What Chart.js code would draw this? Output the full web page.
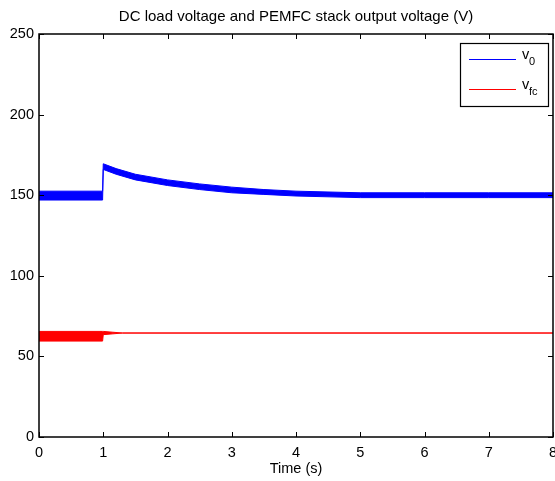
<!DOCTYPE html>
<html>
<head>
<meta charset="utf-8">
<script src="https://cdn.jsdelivr.net/npm/chart.js@4.4.1/dist/chart.umd.min.js"></script>
<style>
  body { margin: 0; background: #fff; }
  canvas { display: block; }
</style>
</head>
<body>
<canvas id="voltChart" width="555" height="481"></canvas>
<script>
// tick labels
const timeTicks = [0, 1, 2, 3, 4, 5, 6, 7, 8];
const voltTicks = [0, 50, 100, 150, 200, 250];

// v0 (DC load voltage) - noisy band read as upper / lower envelope
const blueTime  = [0, 0.99, 1.0, 1.2, 1.5, 2.0, 2.5, 3.0, 3.5, 4.0, 5.0, 6.0, 7.0, 8.0];
const blueUpper = [152.5, 152.5, 169.5, 166.5, 163, 159.5, 157, 155, 153.5, 152.5, 151.5, 151.5, 151.5, 151.5];
const blueLower = [147, 147, 166, 163, 159.5, 156, 153.5, 151.5, 150.5, 149.5, 148.5, 148.5, 148.5, 148.5];

// vfc (PEMFC stack output voltage)
const redTime  = [0, 0.99, 1.0, 1.15, 1.3, 8.0];
const redUpper = [65.5, 65.5, 65.5, 65, 64.5, 64.5];
const redLower = [59.5, 59.5, 63.5, 64, 64.5, 64.5];

const FONT = "'Liberation Sans', Arial, sans-serif";

const toPts = (xs, ys) => xs.map((x, i) => ({ x: x, y: ys[i] }));

// matlab style box with inward ticks on every side + legend
const matlabFrame = {
    id: 'matlabFrame',
    afterDatasetsDraw(chart) {
        const { ctx, chartArea: a, scales } = chart;
        const tl = 5;
        ctx.save();
        ctx.strokeStyle = '#000';
        ctx.lineWidth = 1.5;
        ctx.strokeRect(a.left, a.top, a.right - a.left, a.bottom - a.top);
        ctx.lineWidth = 1;
        ctx.beginPath();
        timeTicks.forEach(t => {
            const px = Math.round(scales.x.getPixelForValue(t)) + 0.5;
            ctx.moveTo(px, a.bottom); ctx.lineTo(px, a.bottom - tl);
            ctx.moveTo(px, a.top); ctx.lineTo(px, a.top + tl);
        });
        voltTicks.forEach(v => {
            const py = Math.round(scales.y.getPixelForValue(v)) + 0.5;
            ctx.moveTo(a.left, py); ctx.lineTo(a.left + tl, py);
            ctx.moveTo(a.right, py); ctx.lineTo(a.right - tl, py);
        });
        ctx.stroke();

        // legend
        const bx = a.right - 93, by = a.top + 9, bw = 88, bh = 63;
        ctx.fillStyle = '#fff';
        ctx.fillRect(bx, by, bw, bh);
        ctx.strokeStyle = '#000';
        ctx.lineWidth = 1.2;
        ctx.strokeRect(bx + 0.5, by + 0.5, bw, bh);

        const items = [
            { color: '#0000ff', main: 'v', sub: '0', y: by + 16 },
            { color: '#ff0000', main: 'v', sub: 'fc', y: by + 46 }
        ];
        items.forEach(it => {
            ctx.strokeStyle = it.color;
            ctx.lineWidth = 1;
            ctx.beginPath();
            ctx.moveTo(bx + 9, it.y + 0.5);
            ctx.lineTo(bx + 56, it.y + 0.5);
            ctx.stroke();
            ctx.fillStyle = '#000';
            ctx.textBaseline = 'alphabetic';
            ctx.textAlign = 'left';
            ctx.font = '14.5px ' + FONT;
            ctx.fillText(it.main, bx + 62, it.y);
            ctx.font = '11px ' + FONT;
            ctx.fillText(it.sub, bx + 69, it.y + 6);
        });
        ctx.restore();
    }
};

new Chart(document.getElementById('voltChart'), {
    type: 'line',
    data: {
        datasets: [
            {
                label: 'v0 upper',
                data: toPts(blueTime, blueUpper),
                borderColor: '#0000ff',
                backgroundColor: '#0000ff',
                borderWidth: 1,
                fill: '+1'
            },
            {
                label: 'v0 lower',
                data: toPts(blueTime, blueLower),
                borderColor: '#0000ff',
                borderWidth: 1,
                fill: false
            },
            {
                label: 'vfc upper',
                data: toPts(redTime, redUpper),
                borderColor: '#ff0000',
                backgroundColor: '#ff0000',
                borderWidth: 1,
                fill: '+1'
            },
            {
                label: 'vfc lower',
                data: toPts(redTime, redLower),
                borderColor: '#ff0000',
                borderWidth: 1,
                fill: false
            }
        ]
    },
    options: {
        responsive: false,
        devicePixelRatio: 1,
        animation: false,
        layout: { padding: { left: 0, right: 2, top: 0, bottom: 0 } },
        elements: {
            point: { radius: 0 },
            line: { tension: 0 }
        },
        scales: {
            x: {
                type: 'linear',
                min: 0,
                max: 8,
                afterBuildTicks: (s) => { s.ticks = timeTicks.map(v => ({ value: v })); },
                afterFit: (s) => { s.height = 44; s.paddingLeft = 0; s.paddingRight = 0; },
                grid: { display: false, drawTicks: false },
                border: { display: false },
                ticks: {
                    color: '#000',
                    padding: 7,
                    maxRotation: 0,
                    font: { family: FONT, size: 14.5 }
                },
                title: {
                    display: true,
                    text: 'Time (s)',
                    color: '#000',
                    padding: { top: 0, bottom: 3 },
                    font: { family: FONT, size: 14.5 }
                }
            },
            y: {
                min: 0,
                max: 250,
                afterBuildTicks: (s) => { s.ticks = voltTicks.map(v => ({ value: v })); },
                afterFit: (s) => { s.width = 39; s.paddingTop = 0; s.paddingBottom = 0; },
                grid: { display: false, drawTicks: false },
                border: { display: false },
                ticks: {
                    color: '#000',
                    padding: 5,
                    font: { family: FONT, size: 14.5 }
                }
            }
        },
        plugins: {
            legend: { display: false },
            tooltip: { enabled: false },
            title: {
                display: true,
                fullSize: false,
                text: 'DC load voltage and PEMFC stack output voltage (V)',
                color: '#000',
                font: { family: FONT, size: 15, weight: 'normal' },
                padding: { top: 8, bottom: 8 }
            }
        }
    },
    plugins: [matlabFrame]
});
</script>
</body>
</html>
